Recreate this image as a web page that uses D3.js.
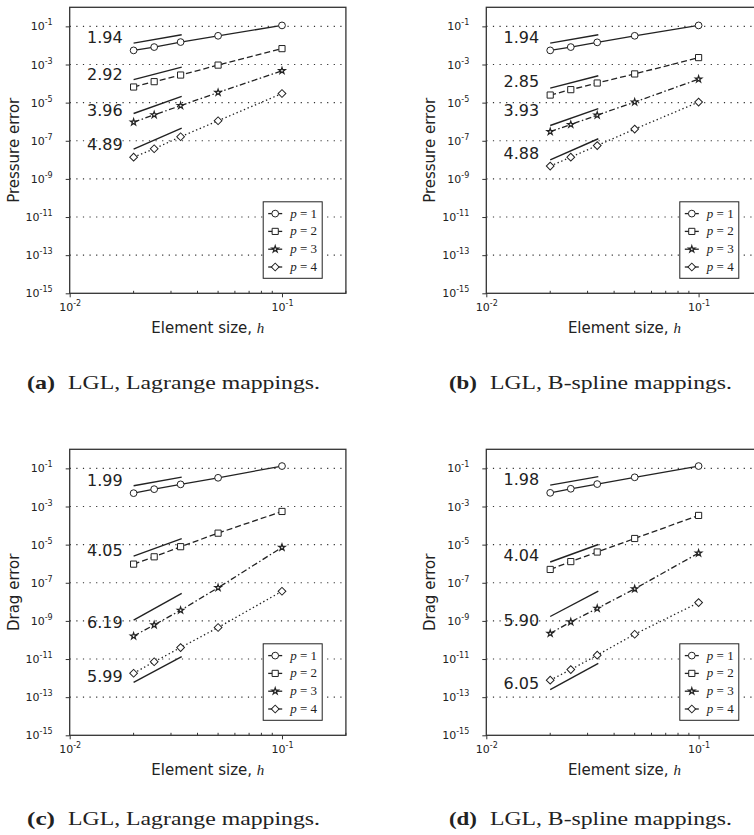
<!DOCTYPE html>
<html>
<head>
<meta charset="utf-8">
<script src="https://cdn.jsdelivr.net/npm/d3@7"></script>
<style>
  body { margin: 0; background: #fff; }
  svg { display: block; }
  text { font-family: "DejaVu Sans", sans-serif; fill: #222; }
  .serif { font-family: "Liberation Serif", "Times New Roman", serif; }
</style>
</head>
<body>
<div id="fig"></div>
<script>
const mainColor = "#222";

// element sizes h
const hValues = [0.02, 0.025, 0.0333, 0.05, 0.1];
const orders = [1, 2, 3, 4];
const yTickValues = [1e-1, 1e-3, 1e-5, 1e-7, 1e-9, 1e-11, 1e-13, 1e-15];
const gridValues = [1e-1, 1e-3, 1e-5, 1e-7, 1e-9, 1e-11, 1e-13];
const xTickValues = [1e-2, 1e-1];
const xMinorValues = [0.02, 0.03, 0.04, 0.05, 0.06, 0.07, 0.08, 0.09, 0.2];
const refLineH = [0.02, 0.0337];

// (a) pressure error, Lagrange mappings: rows p = 1..4
const presLagrange = [
  [5.5e-3, 8.2e-3, 1.5e-2, 3.2e-2, 1.12e-1],
  [6.6e-5, 1.26e-4, 2.8e-4, 9.3e-4, 6.8e-3],
  [9.5e-7, 2.3e-6, 6.9e-6, 3.4e-5, 4.7e-4],
  [1.38e-8, 3.8e-8, 1.62e-7, 1.12e-6, 3.0e-5]
];
const presLagrangeRates = ["1.94", "2.92", "3.96", "4.89"];
const presLagrangeRefStart = [1.33e-2, 1.6e-4, 2.7e-6, 3.6e-8];
const presLagrangeLabelAt = [1.33e-2, 1.46e-4, 1.9e-6, 3.4e-8];

// (b) pressure error, B-spline mappings
const presBspline = [
  [5.5e-3, 8.2e-3, 1.45e-2, 3.2e-2, 1.12e-1],
  [2.5e-5, 4.8e-5, 1.07e-4, 3.2e-4, 2.3e-3],
  [3.0e-7, 7.1e-7, 2.2e-6, 1.07e-5, 1.7e-4],
  [4.7e-9, 1.38e-8, 5.6e-8, 4.1e-7, 1.07e-5]
];
const presBsplineRates = ["1.94", "2.85", "3.93", "4.88"];
const presBsplineRefStart = [1.33e-2, 5.8e-5, 6.3e-7, 1.0e-8];
const presBsplineLabelAt = [1.33e-2, 6.5e-5, 1.9e-6, 1.1e-8];

// (c) drag error, Lagrange mappings
const dragLagrange = [
  [5.0e-3, 8.1e-3, 1.45e-2, 3.2e-2, 1.32e-1],
  [9.5e-7, 2.3e-6, 7.8e-6, 4.0e-5, 5.5e-4],
  [1.6e-10, 6.2e-10, 3.6e-9, 5.5e-8, 7.2e-6],
  [1.8e-12, 7.2e-12, 4.0e-11, 4.5e-10, 3.6e-8]
];
const dragLagrangeRates = ["1.99", "4.05", "6.19", "5.99"];
const dragLagrangeRefStart = [1.23e-2, 2.5e-6, 1.1e-9, 5.9e-13];
const dragLagrangeLabelAt = [1.23e-2, 2.5e-6, 4.3e-10, 5.9e-13];

// (d) drag error, B-spline mappings
const dragBspline = [
  [5.2e-3, 8.5e-3, 1.5e-2, 3.4e-2, 1.32e-1],
  [5.0e-7, 1.29e-6, 4.1e-6, 2.1e-5, 3.4e-4],
  [2.2e-10, 8.9e-10, 4.5e-9, 4.8e-8, 3.6e-6],
  [7.8e-13, 2.8e-12, 1.6e-11, 2.0e-10, 9.1e-9]
];
const dragBsplineRates = ["1.98", "4.04", "5.90", "6.05"];
const dragBsplineRefStart = [1.32e-2, 1.23e-6, 1.7e-9, 2.5e-13];
const dragBsplineLabelAt = [1.32e-2, 1.38e-6, 5.6e-10, 2.6e-13];

const W = 754, H = 835;
const plotW = 276.2, plotH = 286;

const panels = [
  {left: 69.7, top: 7.3, ylabel: "Pressure error", series: presLagrange, rates: presLagrangeRates,
   refStart: presLagrangeRefStart, labelAt: presLagrangeLabelAt,
   tag: "(a)", caption: "LGL, Lagrange mappings.", capX: 27, capY: 389, capLen: 252},
  {left: 486.3, top: 7.3, ylabel: "Pressure error", series: presBspline, rates: presBsplineRates,
   refStart: presBsplineRefStart, labelAt: presBsplineLabelAt,
   tag: "(b)", caption: "LGL, B-spline mappings.", capX: 449, capY: 389, capLen: 242},
  {left: 69.7, top: 449.3, ylabel: "Drag error", series: dragLagrange, rates: dragLagrangeRates,
   refStart: dragLagrangeRefStart, labelAt: dragLagrangeLabelAt,
   tag: "(c)", caption: "LGL, Lagrange mappings.", capX: 27, capY: 825, capLen: 252},
  {left: 486.3, top: 449.3, ylabel: "Drag error", series: dragBspline, rates: dragBsplineRates,
   refStart: dragBsplineRefStart, labelAt: dragBsplineLabelAt,
   tag: "(d)", caption: "LGL, B-spline mappings.", capX: 449, capY: 825, capLen: 242}
];

const dashes = [null, "6,3", "6,2.5,1.5,2.5", "1.4,2.6"];
const symbols = [
  d3.symbol(d3.symbolCircle, 36),
  d3.symbol(d3.symbolSquare, 38),
  d3.symbol(d3.symbolStar, 13),
  d3.symbol(d3.symbolSquare, 30)
];
const symbolRotate = [0, 0, 0, 45];

const xScale = d3.scaleLog().domain([0.01, 0.2]).range([0, plotW]);
const yScale = d3.scaleLog().domain([1e-15, 1]).range([plotH, 0]);

const svg = d3.select("#fig")
  .append("svg")
    .attr("width", W)
    .attr("height", H);

function supLabel(sel, exp) {
  sel.text(null);
  sel.append("tspan").text("10");
  sel.append("tspan").attr("dy", -5).attr("font-size", 8).text(exp);
}

function drawMarker(g, i, x, y) {
  g.append("path")
    .attr("d", symbols[i]())
    .attr("transform", "translate(" + x + "," + y + ") rotate(" + symbolRotate[i] + ")")
    .attr("fill", "#fff")
    .attr("stroke", mainColor)
    .attr("stroke-width", i == 2 ? 1.2 : 1);
}

panels.forEach(p => {
  const g = svg.append("g")
    .attr("transform", "translate(" + p.left + "," + p.top + ")");

  // dotted horizontal grid
  g.selectAll(".grid")
    .data(gridValues)
    .enter().append("line")
      .attr("x1", 0)
      .attr("x2", plotW)
      .attr("y1", d => yScale(d))
      .attr("y2", d => yScale(d))
      .attr("stroke", "#333")
      .attr("stroke-width", 1.1)
      .style("stroke-dasharray", "1.2,5.4");

  // y axis
  const yAxis = g.append("g")
    .call(d3.axisLeft(yScale).tickValues(yTickValues).tickSize(4).tickPadding(13)
      .tickFormat(d => Math.round(Math.log10(d))));
  yAxis.select(".domain").remove();
  yAxis.selectAll("line").attr("stroke", "#333");
  yAxis.selectAll("text")
    .attr("font-size", 11)
    .attr("font-family", "DejaVu Sans")
    .attr("fill", "#222")
    .each(function(d) { supLabel(d3.select(this), String(Math.round(Math.log10(d)))); });

  // x axis
  const xAxis = g.append("g")
    .attr("transform", "translate(0," + plotH + ")")
    .call(d3.axisBottom(xScale).tickValues(xTickValues).tickSize(4).tickPadding(6)
      .tickFormat(d => Math.round(Math.log10(d))));
  xAxis.select(".domain").remove();
  xAxis.selectAll("line").attr("stroke", "#333");
  xAxis.selectAll("text")
    .attr("font-size", 11)
    .attr("font-family", "DejaVu Sans")
    .attr("fill", "#222")
    .each(function(d) { supLabel(d3.select(this), String(Math.round(Math.log10(d)))); });

  // minor ticks, pointing inwards
  g.selectAll(".minor")
    .data(xMinorValues)
    .enter().append("line")
      .attr("x1", d => xScale(d))
      .attr("x2", d => xScale(d))
      .attr("y1", plotH)
      .attr("y2", plotH - 2.5)
      .attr("stroke", "#333")
      .attr("stroke-width", 1);

  // frame
  g.append("rect")
    .attr("x", 0)
    .attr("y", 0)
    .attr("width", plotW)
    .attr("height", plotH)
    .attr("fill", "none")
    .attr("stroke", "#333")
    .attr("stroke-width", 1.3);

  // reference slope lines and rate labels
  p.refStart.forEach((v0, i) => {
    const slope = +p.rates[i];
    const v1 = v0 * Math.pow(refLineH[1] / refLineH[0], slope);
    g.append("line")
      .attr("x1", xScale(refLineH[0]))
      .attr("y1", yScale(v0))
      .attr("x2", xScale(refLineH[1]))
      .attr("y2", yScale(v1))
      .attr("stroke", mainColor)
      .attr("stroke-width", 1.4);
    g.append("text")
      .attr("x", xScale(refLineH[0]) - 11)
      .attr("y", yScale(p.labelAt[i]))
      .attr("text-anchor", "end")
      .attr("font-size", 16)
      .text(p.rates[i]);
  });

  // error curves
  const line = d3.line()
    .x((d, j) => xScale(hValues[j]))
    .y(d => yScale(d));
  p.series.forEach((vals, i) => {
    g.append("path")
      .attr("d", line(vals))
      .attr("fill", "none")
      .attr("stroke", mainColor)
      .attr("stroke-width", 1.3)
      .style("stroke-dasharray", dashes[i]);
    vals.forEach((v, j) => drawMarker(g, i, xScale(hValues[j]), yScale(v)));
  });

  // legend
  const lg = g.append("g")
    .attr("transform", "translate(193.5,194.5)");
  lg.append("rect")
    .attr("width", 59)
    .attr("height", 76.5)
    .attr("fill", "#fff")
    .attr("stroke", mainColor)
    .attr("stroke-width", 1);
  orders.forEach((o, i) => {
    const ly = 11.8 + i * 17.8;
    lg.append("line")
      .attr("x1", 5)
      .attr("x2", 19)
      .attr("y1", ly)
      .attr("y2", ly)
      .attr("stroke", mainColor)
      .attr("stroke-width", 1.3);
    drawMarker(lg, i, 12, ly);
    const t = lg.append("text")
      .attr("class", "serif")
      .attr("x", 27)
      .attr("y", ly + 4)
      .attr("font-size", 13)
      .attr("fill", "#333");
    t.append("tspan").attr("font-style", "italic").text("p");
    t.append("tspan").text(" = " + o);
  });

  // axis titles
  const xt = g.append("text")
    .attr("x", plotW / 2)
    .attr("y", plotH + 40)
    .attr("text-anchor", "middle")
    .attr("font-size", 15);
  xt.append("tspan").text("Element size, ");
  xt.append("tspan").attr("class", "serif").attr("font-style", "italic").text("h");

  g.append("text")
    .attr("transform", "translate(-51," + (plotH / 2) + ") rotate(-90)")
    .attr("text-anchor", "middle")
    .attr("font-size", 15)
    .text(p.ylabel);

  // caption
  svg.append("text")
    .attr("class", "serif")
    .attr("x", p.capX)
    .attr("y", p.capY)
    .attr("font-size", 19)
    .attr("font-weight", "bold")
    .attr("textLength", 28)
    .attr("lengthAdjust", "spacingAndGlyphs")
    .text(p.tag);
  svg.append("text")
    .attr("class", "serif")
    .attr("x", p.capX + 41)
    .attr("y", p.capY)
    .attr("font-size", 18)
    .attr("textLength", p.capLen)
    .attr("lengthAdjust", "spacingAndGlyphs")
    .text(p.caption);
});
</script>
</body>
</html>
